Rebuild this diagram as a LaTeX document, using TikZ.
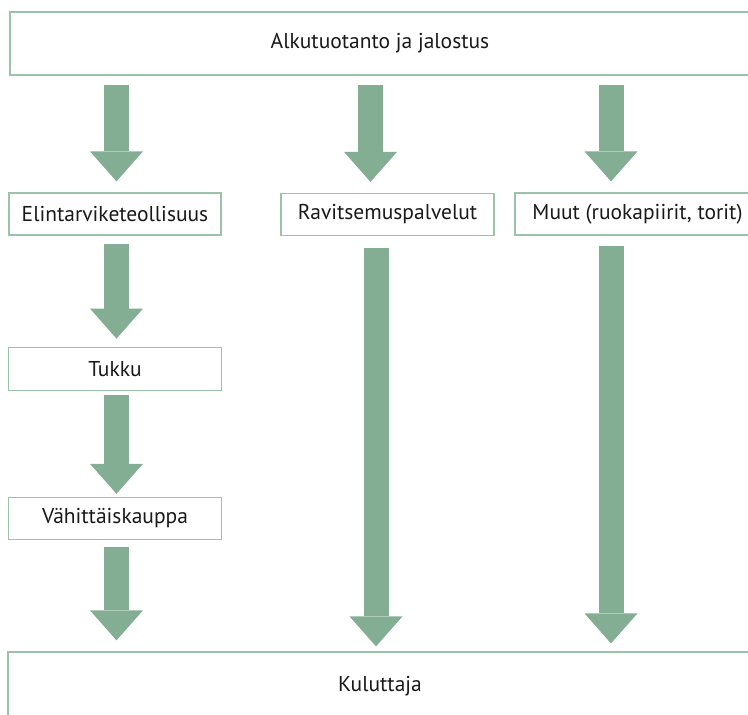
\documentclass[tikz,border=0pt]{standalone}
\usepackage{fontspec}
\setmainfont{PT Sans}
\usepackage{xcolor}
\usepackage{tikz}
\usetikzlibrary{arrows.meta, positioning}
\definecolor{vihrea}{HTML}{84AE94}
\definecolor{reuna}{HTML}{9CC2AA}

\begin{document}
\begin{tikzpicture}[x=1pt, y=-1pt,
  laatikko/.style={rectangle, draw=reuna, line width=1.2pt, inner sep=0pt, minimum height=42pt, text=black!90, font=\fontsize{21.5}{26}\selectfont},
  nuoli/.style={draw=vihrea, line width=25pt, -{Triangle[width=53pt, length=30pt, line width=0pt]}, shorten <=8pt, shorten >=8pt}]
\useasboundingbox (0,0) rectangle (748,715);
\clip (0,0) rectangle (748,715);
% Laatikot
\node[laatikko, minimum width=740pt, minimum height=63pt] (alku) at (380,43.5) {Alkutuotanto ja jalostus};
\node[laatikko, minimum width=212pt] (elin) at (115,214) {Elintarviketeollisuus};
\node[laatikko, minimum width=213pt] (ravi) at (387.5,214.5) {Ravitsemuspalvelut};
\node[laatikko, minimum width=245pt] (muut) at (637.5,214) {Muut (ruokapiirit, torit)};
\node[laatikko, minimum width=213pt, minimum height=43pt, below=111pt of elin] (tukku) {Tukku};
\node[laatikko, minimum width=213pt, below=106pt of tukku] (vahi) {Vähittäiskauppa};
\node[laatikko, minimum width=744pt, minimum height=68pt] (kulu) at (380,686) {Kuluttaja};
% Nuolet
\coordinate (s1) at (116.5,0);
\coordinate (s2) at (370.5,0);
\coordinate (s2b) at (376,0);
\coordinate (s3) at (611,0);
\draw[nuoli, shorten <=9pt, shorten >=11pt] (alku.south -| s1) -- (elin.north -| s1);
\draw[nuoli, shorten <=9pt, shorten >=11pt] (alku.south -| s2) -- (ravi.north -| s2);
\draw[nuoli, shorten <=9pt, shorten >=11pt] (alku.south -| s3) -- (muut.north -| s3);
\draw[nuoli] (elin.south -| s1) -- (tukku.north -| s1);
\draw[nuoli, shorten <=4pt, shorten >=3pt] (tukku.south -| s1) -- (vahi.north -| s1);
\draw[nuoli, shorten <=7pt, shorten >=11pt] (vahi.south -| s1) -- (kulu.north -| s1);
\draw[nuoli, shorten <=12pt, shorten >=5pt] (ravi.south -| s2b) -- (kulu.north -| s2b);
\draw[nuoli, shorten <=10pt, shorten >=8pt] (muut.south -| s3) -- (kulu.north -| s3);
\end{tikzpicture}
\end{document}
